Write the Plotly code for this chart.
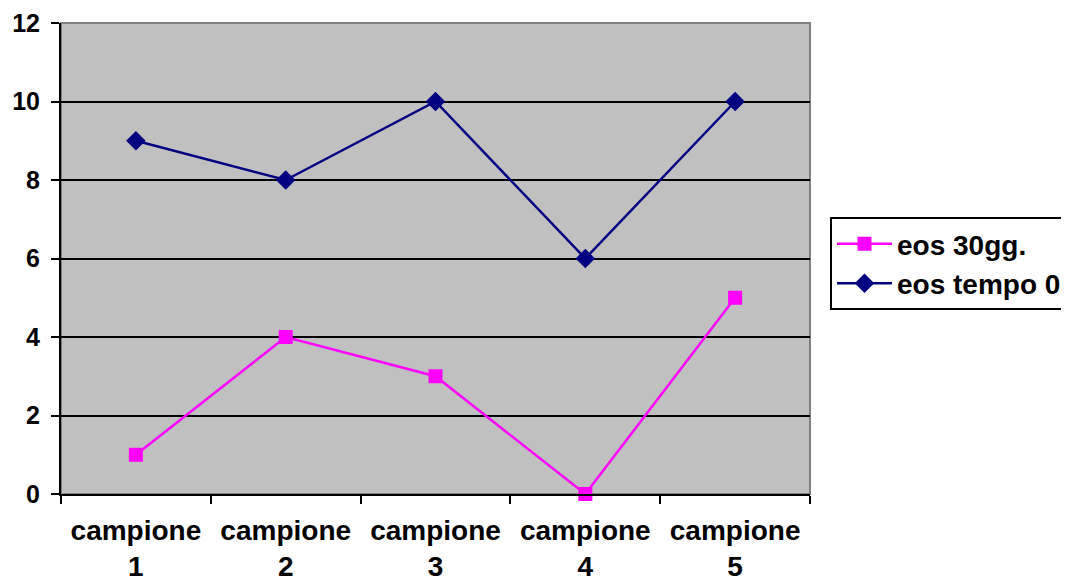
import plotly.graph_objects as go

categories = ["campione<br>1", "campione<br>2", "campione<br>3", "campione<br>4", "campione<br>5"]
eos_30gg = [1, 4, 3, 0, 5]
eos_tempo0 = [9, 8, 10, 6, 10]
y_ticks = [0, 2, 4, 6, 8, 10, 12]

FONT = "Liberation Sans, Arial, sans-serif"

fig = go.Figure()
fig.add_trace(go.Scatter(
    x=categories, y=eos_30gg, name="<b>eos 30gg.</b>", mode="lines+markers",
    line=dict(color="#FF00FF", width=2.5),
    marker=dict(symbol="square", size=14, color="#FF00FF"),
    cliponaxis=False,
))
fig.add_trace(go.Scatter(
    x=categories, y=eos_tempo0, name="<b>eos tempo 0</b>", mode="lines+markers",
    line=dict(color="#000080", width=2.5),
    marker=dict(symbol="diamond", size=15, color="#000080"),
    cliponaxis=False,
))

fig.add_shape(type="rect", xref="paper", yref="paper", x0=0, x1=1, y0=0, y1=1,
              line=dict(color="#808080", width=2), layer="below")

fig.update_layout(
    width=1069, height=582,
    margin=dict(l=53, r=267, t=15, b=96, autoexpand=False),
    paper_bgcolor="white",
    plot_bgcolor="#C0C0C0",
    font=dict(family=FONT, color="black"),
    showlegend=True,
    legend=dict(
        x=1.0267, y=0.588, xanchor="left", yanchor="top",
        bgcolor="white", bordercolor="black", borderwidth=2,
        font=dict(family=FONT, size=28, color="black"),
        itemwidth=55, tracegroupgap=0,
    ),
    xaxis=dict(
        type="category", range=[-0.5, 4.5],
        showline=True, linecolor="black", linewidth=2,
        ticks="outside", tickson="boundaries", ticklen=8, tickwidth=2, tickcolor="black",
        showgrid=False, zeroline=False,
        tickfont=dict(family=FONT, size=28, color="black"),
        tickprefix="<b>", ticksuffix="</b>",
        ticklabelstandoff=10,
    ),
    yaxis=dict(
        range=[0, 12], tickvals=y_ticks, ticktext=[f"<b>{v}</b>" for v in y_ticks],
        showline=True, linecolor="black", linewidth=2,
        ticks="outside", ticklen=8, tickwidth=2, tickcolor="black",
        showgrid=True, gridcolor="black", gridwidth=2, zeroline=False,
        tickfont=dict(family=FONT, size=25, color="black"),
        ticklabelstandoff=6,
    ),
)

fig.write_html("out.html")
